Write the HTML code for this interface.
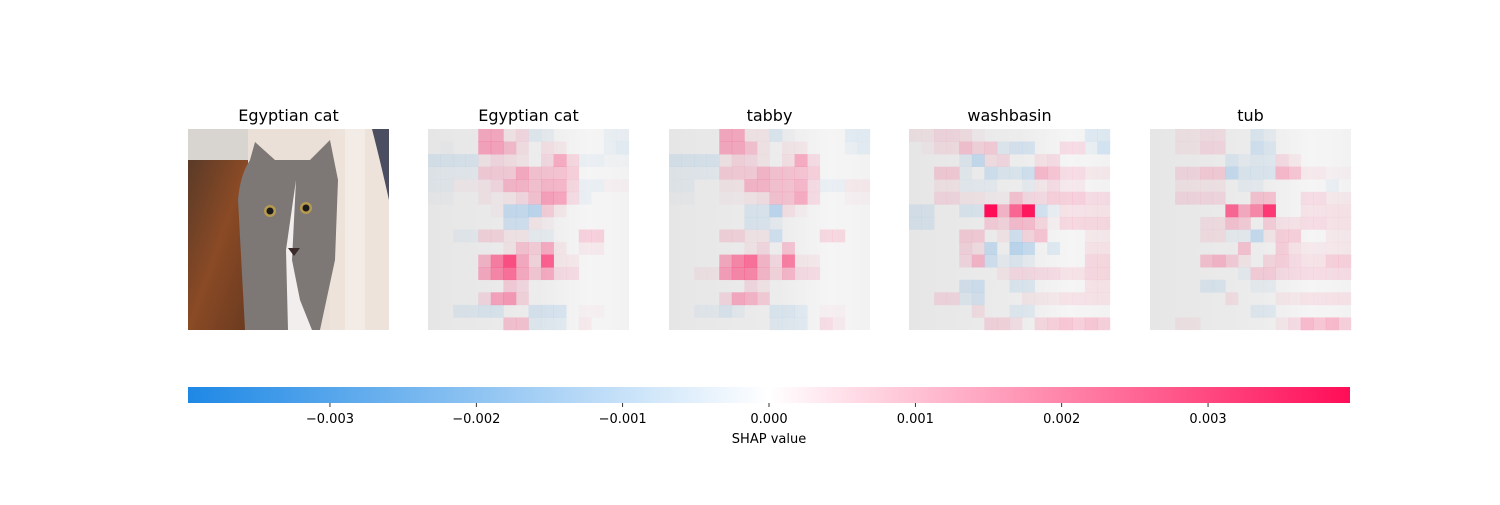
<!DOCTYPE html>
<html><head><meta charset="utf-8"><style>
body{margin:0;background:#fff;width:1500px;height:500px;overflow:hidden;font-family:"Liberation Sans","DejaVu Sans",sans-serif}
svg text{font-family:"DejaVu Sans","Liberation Sans",sans-serif}
</style></head><body>
<svg id="chart" width="1500" height="500" xmlns="http://www.w3.org/2000/svg">
<defs>
<linearGradient id="cb" x1="0" x2="1" y1="0" y2="0">
<stop offset="0" stop-color="rgb(30,136,229)"/>
<stop offset="0.5" stop-color="#ffffff"/>
<stop offset="1" stop-color="rgb(255,13,87)"/>
</linearGradient>
<linearGradient id="bg" x1="0" x2="1" y1="0" y2="0">
<stop offset="0" stop-color="#e6e6e6"/>
<stop offset="0.55" stop-color="#ececec"/>
<stop offset="0.8" stop-color="#f5f5f5"/>
<stop offset="1" stop-color="#f2f2f2"/>
</linearGradient>
<linearGradient id="floor" x1="0" x2="1" y1="0" y2="1">
<stop offset="0" stop-color="#5a3a28"/>
<stop offset="0.5" stop-color="#8a4a25"/>
<stop offset="1" stop-color="#6a3a20"/>
</linearGradient>
<clipPath id="pc"><rect x="188" y="129" width="201" height="201"/></clipPath>
</defs>
<g clip-path="url(#pc)">
<rect x="188" y="129" width="201" height="201" fill="#ebe0d8"/>
<rect x="188" y="129" width="60" height="40" fill="#d8d4d0"/>
<rect x="188" y="160" width="60" height="170" fill="url(#floor)"/>
<rect x="330" y="129" width="60" height="201" fill="#ede3da"/>
<path d="M372 129 L389 129 L389 200 Q380 160 372 129 Z" fill="#4a4e60"/>
<rect x="345" y="129" width="20" height="201" fill="#f3ece6"/>
<path d="M245 330 L238 200 Q240 175 250 160 L255 142 L275 160 L310 160 L330 140 L338 180 L335 260 L320 330 Z" fill="#7d7775"/>
<path d="M296 180 L292 260 L300 300 L312 330 L288 330 L286 250 Z" fill="#f2eeee"/>
<circle cx="270" cy="211" r="6" fill="#b59a50"/><circle cx="270" cy="211" r="3.5" fill="#1a1a1a"/>
<circle cx="306" cy="208" r="6" fill="#b59a50"/><circle cx="306" cy="208" r="3.5" fill="#1a1a1a"/>
<path d="M288 248 L300 248 L294 256 Z" fill="#3a2a2a"/>
</g>
<g id="maps"></g>
<g font-size="16" fill="#000" text-anchor="middle">
<text x="288.5" y="121">Egyptian cat</text>
<text x="528.5" y="121">Egyptian cat</text>
<text x="769.5" y="121">tabby</text>
<text x="1009.5" y="121">washbasin</text>
<text x="1250.5" y="121">tub</text>
</g>
<rect x="188" y="387" width="1162" height="16" fill="url(#cb)"/>
<g id="cbticks"></g>
<text x="769" y="443" font-size="13" text-anchor="middle">SHAP value</text>
</svg>
<script>
const maxVal = 3.97;
const tickValues = [-3,-2,-1,0,1,2,3];
const tickLabels = ["\u22120.003","\u22120.002","\u22120.001","0.000","0.001","0.002","0.003"];
const panelNames = ["egyptian-cat","tabby","washbasin","tub"];
const egyptianCat = [
[0,0,0,0,1.2,1.2,0.2,0.4,-0.3,-0.2,0,0,0,0,-0.2,-0.2],
[0,-0.1,0,0,1.3,1.3,0.9,0.3,0,0.3,0.2,0,0,0,-0.2,-0.3],
[-0.4,-0.4,-0.4,-0.4,0.2,0.4,0.3,0.2,0,0.4,1.2,0.5,-0.2,-0.2,-0.1,-0.1],
[-0.2,-0.2,-0.2,-0.2,0.6,0.6,0.6,1.2,0.8,0.8,0.8,0.6,0,0,0,0],
[-0.2,-0.2,0.1,0.1,0.2,0.4,1.0,1.0,0.8,1.0,1.0,0.5,-0.2,-0.2,0.1,0.1],
[-0.1,-0.1,0,0,0.2,0.1,0.2,0.4,0.8,1.4,1.3,0.4,-0.2,0,0,0],
[0,0,0,0,0,0.1,-0.8,-0.8,-1.0,0.6,0.2,0,0,0,0,0],
[0,0,0,0,0,0,-0.6,-0.6,0.2,0.1,0,0,0,0,0,0],
[0,0,-0.2,-0.2,0.5,0.5,0.2,0.2,-0.2,-0.2,0,0,0.6,0.6,0,0],
[0,0,0,0,0,0,0.2,0.8,0.6,1.2,0.2,0,0.2,0.2,0,0],
[0,0,0,0,1.0,2.0,2.8,1.2,0.5,2.5,0.2,0.2,0,0,0,0],
[0,0,0,0,1.2,1.8,2.2,1.2,0.7,1.2,0.4,0.4,0,0,0,0],
[0,0,0,0,0,0,0.6,0.4,0,0,0,0,0,0,0,0],
[0,0,0,0,0.4,1.3,1.5,0.5,0,0,0,0,0,0,0,0],
[0,0,-0.3,-0.3,-0.4,-0.4,0,0,-0.5,-0.5,-0.5,0,0.1,0.1,0,0],
[0,0,0,0,0,0,0.8,0.8,-0.3,-0.3,-0.3,0,0.2,0,0,0]];
const tabby = [
[0,0,0,0,1.2,1.2,0.2,0.2,-0.4,-0.1,0,0,0,0,-0.3,-0.3],
[0,0,0,0,1.2,1.2,0.8,0.2,0,0.2,0.2,0,0,0,-0.2,-0.3],
[-0.4,-0.4,-0.4,-0.4,0.2,0.5,0.4,0.2,0,0.3,1.2,0.4,0,0,0,0],
[-0.2,-0.2,-0.2,-0.2,0.6,0.6,0.6,1.0,0.8,0.8,0.8,0.6,0,0,0,0],
[-0.2,-0.2,0,0,0.2,0.2,1.0,1.0,0.8,0.8,1.0,0.4,-0.2,-0.2,0.2,0.2],
[-0.1,-0.1,0,0,0.1,0.1,0.2,0.3,0.8,0.8,1.2,0.4,0,0,0.1,0.1],
[0,0,0,0,0,0,-0.4,-0.4,-1.0,0.3,0.1,0,0,0,0,0],
[0,0,0,0,0,0,-0.4,-0.4,-0.2,0,0,0,0,0,0,0],
[0,0,0,0,0.5,0.5,0.2,0.2,-0.6,0,0,0,0.5,0.5,0,0],
[0,0,0,0,0,0,0.2,0.4,0,0.8,0,0,0,0,0,0],
[0,0,0,0,1.2,1.8,2.2,1.0,0.4,2.0,0.2,0.2,0,0,0,0],
[0,0,0.2,0.2,1.4,1.8,1.8,1.0,0.5,1.0,0.4,0.4,0,0,0,0],
[0,0,0,0,0,0,0.4,0.2,0,0,0,0,0,0,0,0],
[0,0,0,0,0.4,1.2,1.0,0.6,0,0,0,0,0,0,0,0],
[0,0,-0.2,-0.2,-0.4,-0.2,0,0,-0.4,-0.4,-0.3,0,0.1,0.1,0,0],
[0,0,0,0,0,0,0,0,-0.3,-0.3,-0.3,0,0.4,0.2,0,0]];
const washbasin = [
[0.2,0.2,0.4,0.4,0.3,0.1,0,0,0,0,0,0,0,0,-0.4,-0.4],
[0,0.1,0.3,0.3,0.8,0.5,0.6,-0.3,-0.5,-0.5,0,0,0.4,0.4,-0.2,-0.6],
[0,0,0,0,-0.3,-0.8,0.3,0.4,0,0,0.3,0.4,0,0,0,0],
[0,0,0.6,0.6,-0.2,0,-0.6,-0.4,-0.4,-0.6,1.0,0.8,0.4,0.4,0.2,0.2],
[0,0,0.2,0.2,-0.2,-0.2,-0.2,0,0,-0.2,0.2,0.4,0.2,0.2,0,0],
[0,0,0.4,0.4,0.2,0.2,0.1,0.1,0.8,0.4,0.4,0.6,0.6,0.6,0.4,0.4],
[-0.4,-0.4,0,0,-0.4,-0.4,4.0,1.0,2.4,3.8,-0.6,-0.2,0.3,0.3,0.3,0.3],
[-0.4,-0.4,0,0,0,0,0.6,0.5,0.9,0.9,0.5,0.1,0.5,0.5,0.5,0.5],
[0,0,0,0,0.6,0.6,0,0.2,-0.6,0.5,0.8,0,0,0,0.2,0.2],
[0,0,0,0,0.5,0.3,-0.8,0,-1.0,-0.8,0,-0.4,0,0,0.3,0.3],
[0,0,0,0,0.4,1.0,-0.6,-0.2,-0.4,-0.2,0,0,0,0,0.5,0.5],
[0,0,0,0,0,0,0,0.2,0.4,0.4,0.4,0.4,0.3,0.3,0.5,0.5],
[0,0,0,0,-0.5,-0.6,0,0,-0.4,-0.4,0,0,0,0,0.3,0.3],
[0,0,0.4,0.4,-0.3,-0.5,0,0,0,0.2,0.2,0.2,0.3,0.3,0.3,0.3],
[0,0,0,0,0,0.3,0,0,-0.3,-0.3,0,0,0,0,0,0],
[0,0,0,0,0,0,0.5,0.5,0.3,0,0.5,0.6,0.8,0.6,0.8,0.6]];
const tub = [
[0,0,0.2,0.2,0.3,0.3,0,0,-0.4,-0.2,0,0,0,0,0,0],
[0,0,0.2,0.2,0.4,0.4,0,0,-0.6,-0.4,0,0,0,0,0,0],
[0,0,0,0,0,0,-0.4,-0.2,-0.3,-0.3,0.4,0.2,0,0,0,0],
[0,0,0.4,0.4,0.6,0.6,-0.8,-0.4,-0.4,-0.4,1.0,0.8,0.2,0.2,0.1,0.1],
[0,0,0.2,0.2,0.2,0.2,0,-0.2,-0.2,0,0,0,0,0,-0.2,0],
[0,0,0.4,0.4,0.4,0.4,0,0,0.8,0.8,0,0,0.4,0.4,0.2,0.2],
[0,0,0,0,0,0,2.4,1.2,1.8,3.2,0,0,0.3,0.3,0.3,0.3],
[0,0,0,0,0.3,0.3,0.8,0.6,0,0.6,0.3,0.3,0.4,0.4,0.3,0.3],
[0,0,0,0,0.3,0.3,-0.2,-0.2,-0.8,0.2,0.6,0.6,0,0,0.2,0.2],
[0,0,0,0,0,0,0,0.8,0,0,0.6,0.3,0.2,0.2,0.2,0.2],
[0,0,0,0,0.8,1.0,0.6,0.2,0,0.5,0.6,0.4,0.3,0.3,0.6,0.6],
[0,0,0,0,0,0,0,-0.2,0.6,0.6,0.4,0.4,0.4,0.4,0.4,0.4],
[0,0,0,0,-0.4,-0.4,0,0,-0.2,-0.2,0,0,0,0,0,0],
[0,0,0,0,0,0,0.3,0,0,0,0.2,0.2,0.3,0.3,0.3,0.3],
[0,0,0,0,0,0,0,0,-0.3,-0.3,0,0,0,0,0,0],
[0,0,0.2,0.2,0,0,0,0,0,0,0.2,0.4,1.0,0.8,1.0,0.6]];
const panelValues = [egyptianCat, tabby, washbasin, tub];

const NS = "http://www.w3.org/2000/svg";
const panelX = [428, 669, 909, 1150], panelY = 129, panelS = 201, N = 16;
const cbX0 = 188, cbX1 = 1350;
function xCb(v){ return cbX0 + (v + maxVal) / (2*maxVal) * (cbX1 - cbX0); }
function cellColor(v){
  const a = Math.min(1, Math.abs(v)/maxVal);
  return v >= 0 ? `rgba(255,13,87,${a})` : `rgba(30,136,229,${a})`;
}
const maps = document.getElementById('maps');
panelValues.forEach((grid, p) => {
  const g = document.createElementNS(NS, 'g');
  
  
  const bg = document.createElementNS(NS, 'rect');
  bg.setAttribute('x', panelX[p]); bg.setAttribute('y', panelY);
  bg.setAttribute('width', panelS); bg.setAttribute('height', panelS);
  bg.setAttribute('fill', 'url(#bg)');
  
  
  g.appendChild(bg);
  const cs = panelS / N;
  grid.forEach((row, r) => row.forEach((v, c) => {
    if (v === 0) return;
    const rc = document.createElementNS(NS, 'rect');
    rc.setAttribute('x', panelX[p] + c*cs); rc.setAttribute('y', panelY + r*cs);
    rc.setAttribute('width', cs + 0.3); rc.setAttribute('height', cs + 0.3);
    rc.setAttribute('fill', cellColor(v));
    
    
    g.appendChild(rc);
  }));
  maps.appendChild(g);
});
const ticks = document.getElementById('cbticks');
tickValues.forEach((v, i) => {
  const x = xCb(v);
  const l = document.createElementNS(NS, 'line');
  l.setAttribute('x1', x); l.setAttribute('x2', x); l.setAttribute('y1', 403); l.setAttribute('y2', 407);
  l.setAttribute('stroke', '#000'); l.setAttribute('stroke-width', '0.8');
  
  
  ticks.appendChild(l);
  const t = document.createElementNS(NS, 'text');
  t.setAttribute('x', x); t.setAttribute('y', 423);
  t.setAttribute('font-size', '13'); t.setAttribute('text-anchor', 'middle');
  t.textContent = tickLabels[i];
  
  
  ticks.appendChild(t);
});
</script>
</body></html>
